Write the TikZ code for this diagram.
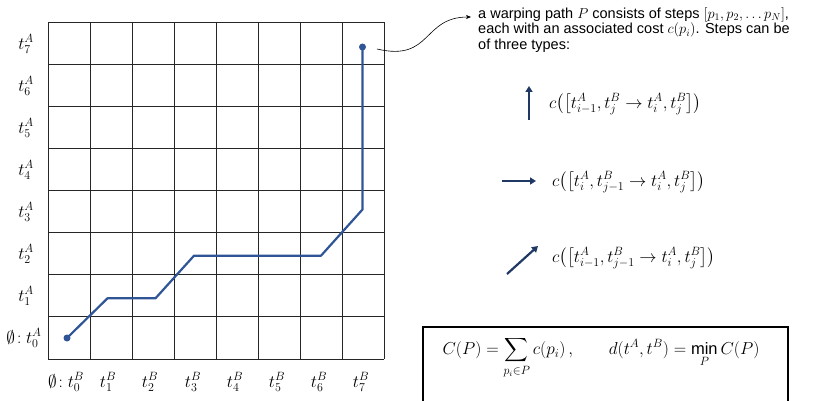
\documentclass[tikz,border=0pt]{standalone}
\usepackage{amsmath,amssymb}
\usepackage{fontspec}
\setmainfont{Liberation Sans}
\usetikzlibrary{arrows.meta}
\definecolor{pathblue}{HTML}{2F5597}
\definecolor{navy}{HTML}{1F3864}
\tikzset{
  gridline/.style={draw=black!85, line width=0.9pt},
  wpath/.style={draw=pathblue, line width=2.2pt, line join=round},
  lab/.style={inner sep=0pt, font=\fontsize{17}{19}\selectfont},
  steparrow/.style={draw=navy, line width=2.2pt, -{Triangle[length=6pt,width=7pt]}},
  formula/.style={inner sep=0pt, anchor=west, font=\fontsize{16.5}{19}\selectfont},
  dot/.style={circle, fill=pathblue, inner sep=0pt, minimum size=7pt},
}
\begin{document}
\begin{tikzpicture}[x=1pt,y=-1pt]
\useasboundingbox (0,0) rectangle (813,401);
% grid
\foreach \i in {0,...,8}{
  \draw[gridline] ({48+42*\i},22) -- ({48+42*\i},359);
  \draw[gridline] (48,{22+42.125*\i}) -- (384,{22+42.125*\i});
}
% row labels
\node[lab] (a0) at (24,338) {$\emptyset\!:t_0^A$};
\foreach \i/\y in {1/296,2/254,3/212,4/170,5/128,6/86,7/44}{
  \node[lab] (a\i) at (26,\y) {$t_{\i}^A$};
}
% column labels
\node[lab] (b0) at (66,382) {$\emptyset\!:t_0^B$};
\foreach \i/\x in {1/108,2/150,3/193,4/235,5/277,6/319,7/361}{
  \node[lab] (b\i) at (\x,382) {$t_{\i}^B$};
}
% warping path
\coordinate (p0) at (67,338);
\coordinate (p1) at (107.5,298.3);
\coordinate (p2) at (155.5,298.3);
\coordinate (p3) at (194,255.7);
\coordinate (p4) at (321,255.7);
\coordinate (p5) at (362.5,209.5);
\coordinate (p6) at (362.5,47);
\draw[wpath] (p0) -- (p1) -- (p2) -- (p3) -- (p4) -- (p5) -- (p6);
\node[dot] (s) at (p0) {};
\node[dot] (e) at (p6) {};
% description
\node[inner sep=0pt, anchor=north west, align=left, font=\fontsize{14.5}{15.5}\selectfont] (desc) at (478,7.5)
  {a warping path $P$ consists of steps $[p_1,p_2,\dots p_N]$,\\
   each with an associated cost $c(p_i)$. Steps can be\\
   of three types:};
\coordinate (cs) at (377,49);
\coordinate (ce) at (471,17);
\draw[-{Stealth[length=5pt,width=4pt]}, line width=0.6pt] (cs) .. controls (432,62) and (422,17) .. (ce);
% step types
\coordinate (u0) at (529,120);
\coordinate (u1) at (529,86);
\draw[steparrow] (u0) -- (u1);
\node[formula] (f1) at (549,104) {$c\bigl(\bigl[t^A_{i-1},t^B_j\to t^A_i,t^B_j\bigr]\bigr)$};
\coordinate (r0) at (502,181);
\coordinate (r1) at (536,181);
\draw[steparrow] (r0) -- (r1);
\node[formula] (f2) at (552,182) {$c\bigl(\bigl[t^A_{i},t^B_{j-1}\to t^A_i,t^B_j\bigr]\bigr)$};
\coordinate (d0) at (507,274);
\coordinate (d1) at (538,246);
\draw[steparrow] (d0) -- (d1);
\node[formula] (f3) at (552,258) {$c\bigl(\bigl[t^A_{i-1},t^B_{j-1}\to t^A_i,t^B_j\bigr]\bigr)$};
% cost box
\draw[line width=2pt] (423,410) -- (423,327) -- (788,327) -- (788,410);
\node[inner sep=0pt, font=\fontsize{16.5}{19}\selectfont] (cost) at (601,358)
  {$C(P)=\displaystyle\sum_{p_i\in P} c(p_i)\,,\qquad d(t^A,t^B)=\min_P C(P)$};
\end{tikzpicture}
\end{document}
